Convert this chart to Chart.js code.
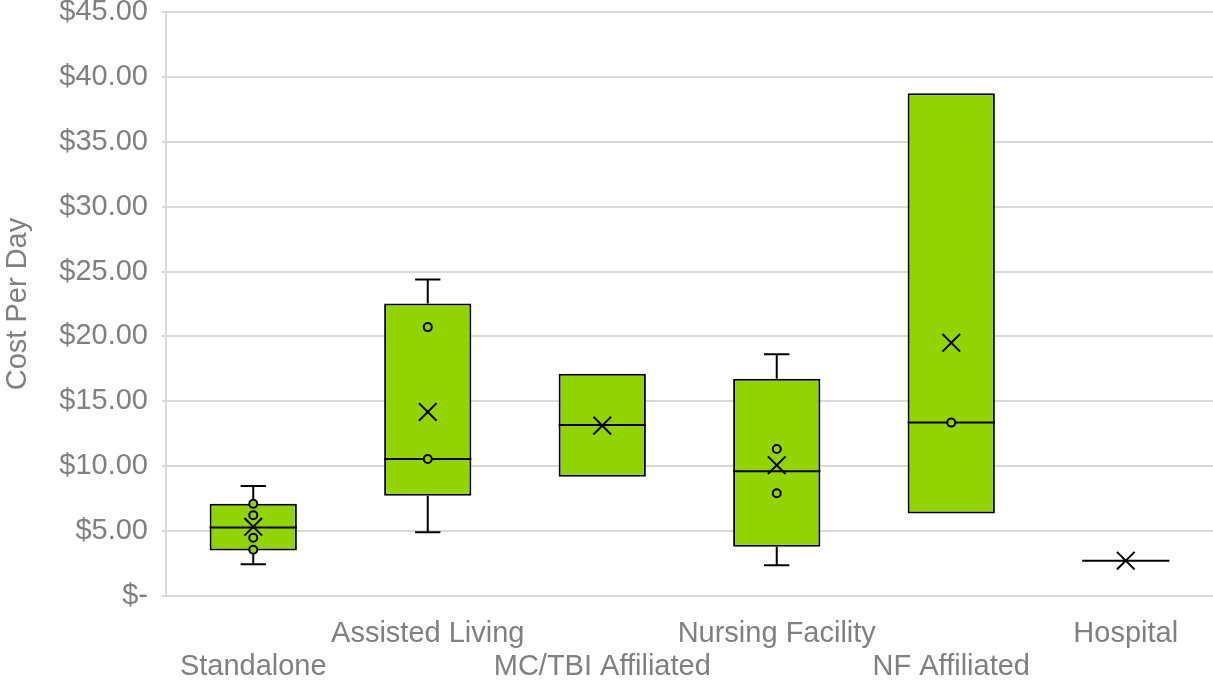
<!DOCTYPE html>
<html>
<head>
<meta charset="utf-8">
<title>Cost Per Day</title>
<script src="https://cdn.jsdelivr.net/npm/chart.js@4/dist/chart.umd.min.js"></script>
<style>
  html, body { margin: 0; padding: 0; background: #fff; }
  #chart { display: block; }
</style>
</head>
<body>
<canvas id="chart" width="1213" height="680"></canvas>
<script>
// Box plot data
const categories = ['Standalone', 'Assisted Living', 'MC/TBI Affiliated', 'Nursing Facility', 'NF Affiliated', 'Hospital'];
const whiskerLow  = [2.44, 4.92, 9.18, 2.36, 6.36, 2.72];
const q1          = [3.51, 7.72, 9.18, 3.79, 6.36, 2.72];
const median      = [5.28, 10.56, 13.18, 9.62, 13.36, 2.72];
const q3          = [7.10, 22.54, 17.13, 16.74, 38.74, 2.72];
const whiskerHigh = [8.48, 24.38, 17.13, 18.62, 38.74, 2.72];
const mean        = [5.33, 14.18, 13.13, 10.08, 19.51, 2.72];
// inner points shown per category
const innerPoints = [
    [7.10, 6.23, 4.49, 3.56],
    [20.72, 10.56],
    [],
    [11.33, 7.92],
    [13.36],
    []
];
const yTicks = [0, 5, 10, 15, 20, 25, 30, 35, 40, 45];

const GREEN = '#92d400';
const GREY_TEXT = '#808080';
const GRID = '#d9d9d9';
const FONT = "'Liberation Sans', Arial, sans-serif";

// whiskers + median lines, drawn right after the boxes
const boxExtras = {
    id: 'boxExtras',
    afterDatasetDraw(chart, args) {
        if (args.index !== 0) return;
        const ctx = chart.ctx;
        const y = chart.scales.y;
        const bars = args.meta.data;
        ctx.save();
        ctx.strokeStyle = '#000';
        ctx.lineWidth = 2;
        bars.forEach((bar, i) => {
            const cx = bar.x;
            const half = bar.width / 2;
            const cap = bar.width * 0.145;
            ctx.beginPath();
            if (whiskerHigh[i] > q3[i]) {
                ctx.moveTo(cx, y.getPixelForValue(q3[i]));
                ctx.lineTo(cx, y.getPixelForValue(whiskerHigh[i]));
                ctx.moveTo(cx - cap, y.getPixelForValue(whiskerHigh[i]));
                ctx.lineTo(cx + cap, y.getPixelForValue(whiskerHigh[i]));
            }
            if (whiskerLow[i] < q1[i]) {
                ctx.moveTo(cx, y.getPixelForValue(q1[i]));
                ctx.lineTo(cx, y.getPixelForValue(whiskerLow[i]));
                ctx.moveTo(cx - cap, y.getPixelForValue(whiskerLow[i]));
                ctx.lineTo(cx + cap, y.getPixelForValue(whiskerLow[i]));
            }
            const my = y.getPixelForValue(median[i]);
            ctx.moveTo(cx - half, my);
            ctx.lineTo(cx + half, my);
            ctx.stroke();
        });
        ctx.restore();
    }
};

const pointData = [];
innerPoints.forEach((arr, i) => arr.forEach(v => pointData.push({ x: categories[i], y: v })));

new Chart(document.getElementById('chart'), {
    type: 'bar',
    data: {
        labels: categories,
        datasets: [
            {
                type: 'bar',
                data: categories.map((c, i) => [q1[i], q3[i]]),
                backgroundColor: GREEN,
                borderColor: '#000',
                borderWidth: 2,
                borderSkipped: false,
                barPercentage: 0.5,
                categoryPercentage: 1,
                order: 3
            },
            {
                type: 'line',
                data: pointData,
                showLine: false,
                pointStyle: 'circle',
                pointRadius: 4,
                pointBackgroundColor: GREEN,
                pointBorderColor: '#000',
                pointBorderWidth: 2,
                order: 2
            },
            {
                type: 'line',
                data: mean.map((v, i) => ({ x: categories[i], y: v })),
                showLine: false,
                pointStyle: 'crossRot',
                pointRadius: 12.5,
                pointBorderColor: '#000',
                pointBorderWidth: 2,
                order: 1
            }
        ]
    },
    options: {
        responsive: false,
        animation: false,
        layout: { padding: 0, autoPadding: false },
        plugins: {
            legend: { display: false },
            tooltip: { enabled: false }
        },
        scales: {
            x: {
                offset: true,
                grid: { display: false },
                border: { color: GRID, width: 2 },
                ticks: {
                    autoSkip: false,
                    maxRotation: 0,
                    minRotation: 0,
                    padding: 13,
                    color: GREY_TEXT,
                    font: { family: FONT, size: 29, lineHeight: 1.14 },
                    // staggered labels: even ones on the lower row
                    callback: (v, i) => i % 2 === 0 ? ['', categories[i]] : [categories[i], '']
                },
                afterFit: s => { s.height = 84; s.paddingLeft = 0; s.paddingRight = 0; }
            },
            y: {
                min: 0,
                max: 45,
                afterBuildTicks: s => { s.ticks = yTicks.map(v => ({ value: v })); },
                grid: { color: GRID, lineWidth: 2, tickLength: 4 },
                border: { color: GRID, width: 2 },
                ticks: {
                    padding: 14,
                    color: GREY_TEXT,
                    font: { family: FONT, size: 29 },
                    callback: v => v === 0 ? '$-' : '$' + v.toFixed(2)
                },
                title: {
                    display: true,
                    text: 'Cost Per Day',
                    color: GREY_TEXT,
                    font: { family: FONT, size: 29 },
                    padding: { top: 1, bottom: 0 }
                },
                afterFit: s => { s.width = 166; s.paddingTop = 12; s.paddingBottom = 0; }
            }
        }
    },
    plugins: [boxExtras]
});
</script>
</body>
</html>
